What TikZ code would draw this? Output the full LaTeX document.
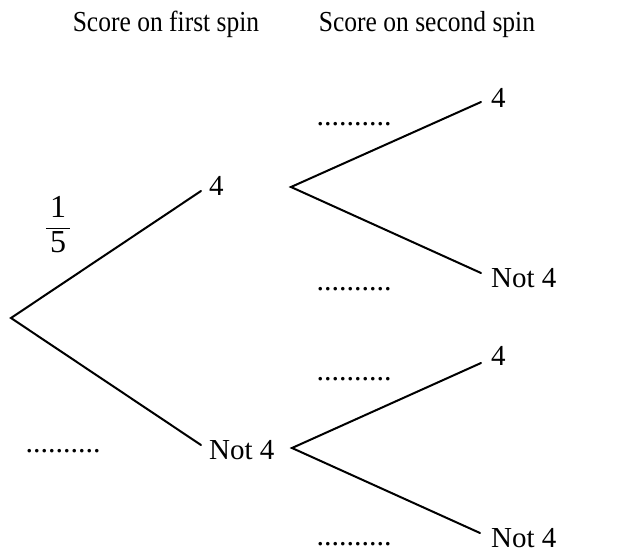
\documentclass[tikz,border=0pt]{standalone}
\usepackage{amsmath}
\usepackage{fontspec}
\setmainfont{Liberation Serif}
\begin{document}
\begin{tikzpicture}[x=1pt,y=-1pt,
  lbl/.style={font=\fontsize{29}{32}\selectfont, inner sep=0pt},
  head/.style={font=\fontsize{29}{32}\selectfont, inner sep=0pt, anchor=base, xscale=0.88},
  dotsl/.style={font=\fontsize{30}{33}\selectfont, inner sep=0pt, anchor=base},
  branch/.style={line width=2pt, line cap=round}]
\useasboundingbox (0,0) rectangle (632,554);
% headers
\node[head] (h1) at (166,31) {Score on first spin};
\node[head] (h2) at (427,31) {Score on second spin};
% tree points
\coordinate (r) at (11,318);
\coordinate (e1) at (201,191);
\coordinate (e2) at (201,445);
\coordinate (s1) at (291,187);
\coordinate (s2) at (292,448);
\coordinate (t1) at (481,102);
\coordinate (t2) at (481,273);
\coordinate (t3) at (481,363);
\coordinate (t4) at (480,533);
\draw[branch] (e1) -- (r) -- (e2);
\draw[branch] (t1) -- (s1) -- (t2);
\draw[branch] (t3) -- (s2) -- (t4);
% outcome labels
\node[lbl, anchor=west] (n1) at (209,186) {4};
\node[lbl, anchor=west] (n2) at (209,450) {Not 4};
\node[lbl, anchor=west] (n3) at (491,98) {4};
\node[lbl, anchor=west] (n4) at (491,278) {Not 4};
\node[lbl, anchor=west] (n5) at (491,356) {4};
\node[lbl, anchor=west] (n6) at (491,538) {Not 4};
% probability labels
\node[font=\fontsize{32}{35}\selectfont, inner sep=0pt] (p1) at (58,225) {$\dfrac{\,\text{1}\,}{\,\text{5}\,}$};
\node[dotsl] (d0) at (63,452) {..........};
\node[dotsl] (d1) at (354,125) {..........};
\node[dotsl] (d2) at (354,290) {..........};
\node[dotsl] (d3) at (354,380) {..........};
\node[dotsl] (d4) at (354,545) {..........};
\end{tikzpicture}
\end{document}
